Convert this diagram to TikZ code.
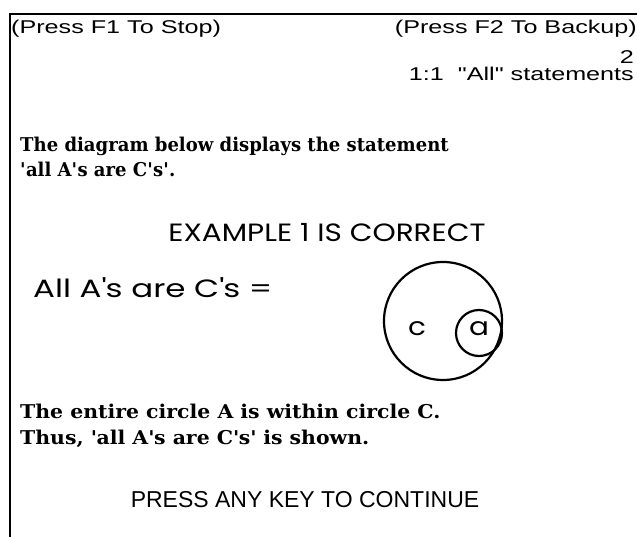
\documentclass[tikz,border=0pt]{standalone}
\usepackage{fontspec}
\setmainfont{Liberation Serif}
\newfontfamily\hdr[FakeStretch=1.36]{Liberation Sans}
\newfontfamily\pressfont{Liberation Sans}
\newfontfamily\bk[FakeStretch=0.95]{DejaVu Serif}
\newfontfamily\bkw[FakeStretch=1.075]{DejaVu Serif}
\newfontfamily\geo[FakeStretch=1.18]{Poppins}
\newfontfamily\geow[FakeStretch=1.3]{Poppins}
\newcommand{\sq}{\textquotesingle}
\begin{document}
\begin{tikzpicture}[x=1pt,y=-1pt,
  hdrtext/.style={font=\hdr\fontsize{18.5}{20}\selectfont, inner sep=0pt},
  bodytext/.style={font=\bk\bfseries\fontsize{19}{25.5}\selectfont, inner sep=0pt, anchor=west, align=left},
  geotext/.style={font=\geo\fontsize{25}{28}\selectfont, inner sep=0pt},
  ring/.style={draw, line width=2.2pt, circle, inner sep=0pt}]
\useasboundingbox (0,0) rectangle (637,537);
\coordinate (tl) at (10,14);
\coordinate (tr) at (637,14);
\coordinate (bl) at (10,537);
\draw[line width=2.6pt] (tr) -- (tl) -- (bl);
\node[hdrtext, anchor=west] (f1) at (11,29) {(Press F1 To Stop)};
\node[hdrtext, anchor=east] (f2) at (637,29) {(Press F2 To Backup)};
\node[hdrtext, anchor=east] (pg) at (634,57) {2};
\node[hdrtext, anchor=east] (sec) at (634,74) {1:1\ \ "All" statements};
\node[bodytext] (intro) at (20,157) {The diagram below displays the statement\\\sq all A\sq s are C\sq s\sq.};
\node[geotext] (ex) at (327,233) {EXAMPLE 1 IS CORRECT};
\node[geotext, font=\geow\fontsize{25}{28}\selectfont, anchor=west] (stmt) at (33,288) {All A\sq s are C\sq s =};
\node[ring, minimum size=118pt] (C) at (443,321) {};
\node[ring, minimum size=46pt] (A) at (479,333) {};
\node[geotext] (clab) at (417,329) {c};
\node[geotext] (alab) at (479,329) {a};
\node[bodytext, font=\bkw\bfseries\fontsize{19}{25.5}\selectfont] (concl) at (20,426) {The entire circle A is within circle C.\\Thus, \sq all A\sq s are C\sq s\sq{} is shown.};
\node[font=\pressfont\fontsize{23}{26}\selectfont, inner sep=0pt] (press) at (305,500) {PRESS ANY KEY TO CONTINUE};
\end{tikzpicture}
\end{document}
